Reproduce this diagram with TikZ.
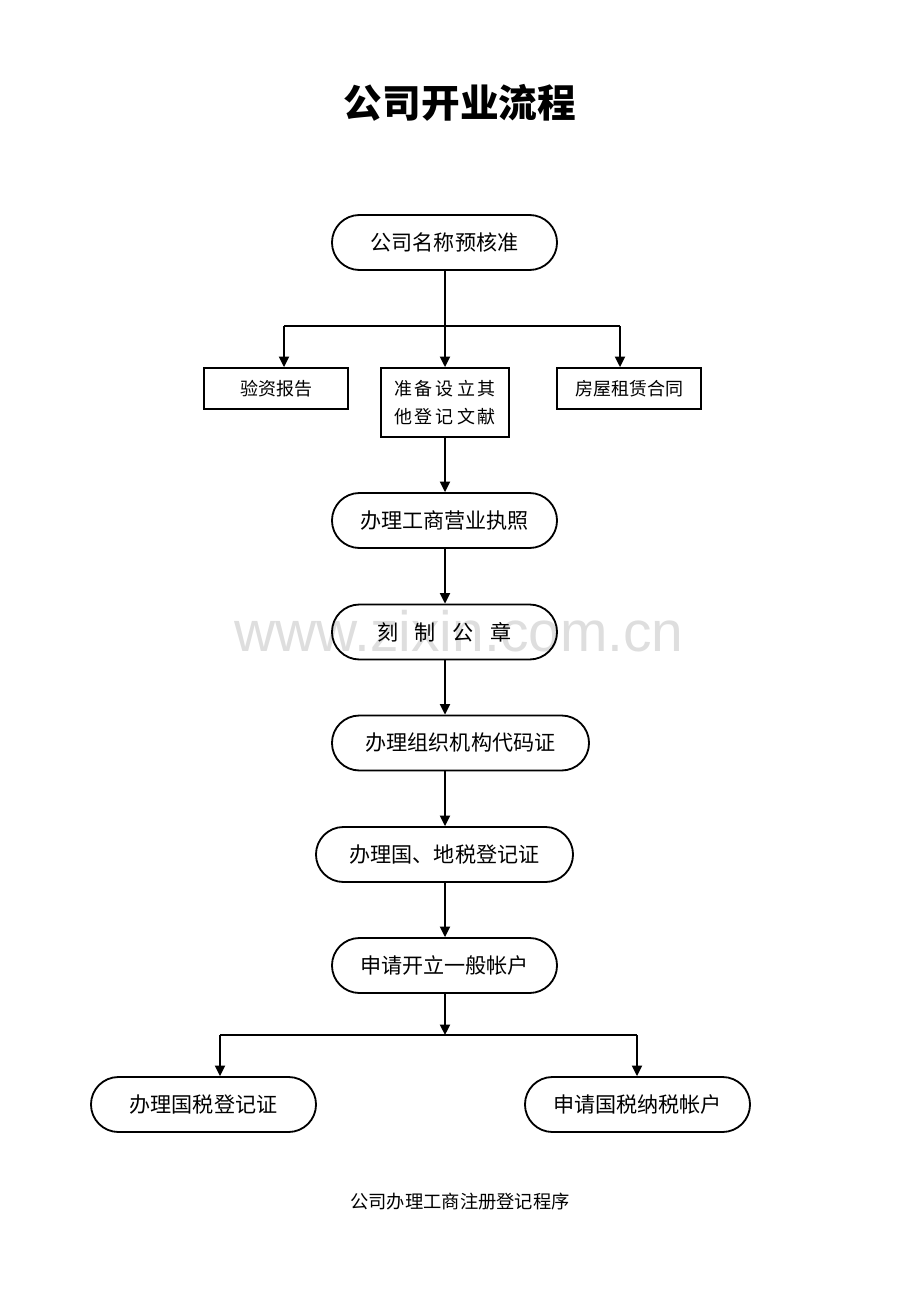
\documentclass[tikz,border=0pt]{standalone}
\usepackage{fontspec}
\setmainfont{Noto Sans CJK SC}
\newfontfamily\wmfont{Liberation Sans}
\usetikzlibrary{arrows.meta}
\tikzset{
  stad/.style={draw, line width=1.3pt, rounded corners=0.6875cm, minimum width=5.625cm, minimum height=1.375cm, inner sep=0pt, font=\fontsize{15}{18}\selectfont},
  sbox/.style={draw, line width=1.3pt, minimum width=3.6cm, minimum height=1.025cm, inner sep=0pt, font=\fontsize{12.8}{20}\selectfont, align=center},
  conn/.style={line width=1.3pt},
  arr/.style={conn, -{Triangle[length=2.6mm,width=2.5mm]}},
  wm/.style={font=\wmfont\fontsize{40.5}{44}\selectfont, text=black!13},
  titletext/.style={font=\bfseries\fontsize{27.5}{32}\selectfont},
  captext/.style={font=\fontsize{13}{16}\selectfont}
}
\begin{document}
\begin{tikzpicture}[x=0.025cm, y=-0.025cm]
\useasboundingbox (0,0) rectangle (920,1300);
% watermark
\node[wm] (wmark) at (459,631) {www.zixin.com.cn};
% title
\node[titletext] (title) at (460,103) {公司开业流程};
% nodes
\node[stad] (n1) at (444.5,242.5) {公司名称预核准};
\node[sbox] (b1) at (276,388.5) {验资报告};
\node[sbox, minimum width=3.2cm, minimum height=1.725cm] (b2) at (445,402.5) {准\,备\,设\,立\,其\\他\,登\,记\,文\,献};
\node[sbox] (b3) at (629,388.5) {房屋租赁合同};
\node[stad] (n2) at (444.5,520.5) {办理工商营业执照};
\node[stad] (n3) at (444.5,632) {刻\hspace{0.8em}制\hspace{0.8em}公\hspace{0.8em}章};
\node[stad, minimum width=6.425cm] (n4) at (460.5,743) {办理组织机构代码证};
\node[stad, minimum width=6.425cm] (n5) at (444.5,854.5) {办理国、地税登记证};
\node[stad] (n6) at (444.5,965.5) {申请开立一般帐户};
\node[stad] (n7) at (203.5,1104.5) {办理国税登记证};
\node[stad] (n8) at (637.5,1104.5) {申请国税纳税帐户};
\node[captext] (cap) at (460,1202) {公司办理工商注册登记程序};
% branch 1
\coordinate (ax) at (445,0);
\coordinate (j1) at (445,326);
\coordinate (j1l) at (284,326);
\coordinate (j1r) at (620,326);
\draw[conn] (ax |- n1.south) -- (j1);
\draw[conn] (j1l) -- (j1r);
\draw[arr] (j1l) -- (j1l |- b1.north);
\draw[arr] (j1) -- (j1 |- b2.north);
\draw[arr] (j1r) -- (j1r |- b3.north);
% main chain
\draw[arr] (ax |- b2.south) -- (ax |- n2.north);
\draw[arr] (ax |- n2.south) -- (ax |- n3.north);
\draw[arr] (ax |- n3.south) -- (ax |- n4.north);
\draw[arr] (ax |- n4.south) -- (ax |- n5.north);
\draw[arr] (ax |- n5.south) -- (ax |- n6.north);
% branch 2
\coordinate (j2) at (445,1035);
\coordinate (j2l) at (220,1035);
\coordinate (j2r) at (637,1035);
\draw[arr] (ax |- n6.south) -- (j2);
\draw[conn] (j2l) -- (j2r);
\draw[arr] (j2l) -- (j2l |- n7.north);
\draw[arr] (j2r) -- (j2r |- n8.north);
\end{tikzpicture}
\end{document}
